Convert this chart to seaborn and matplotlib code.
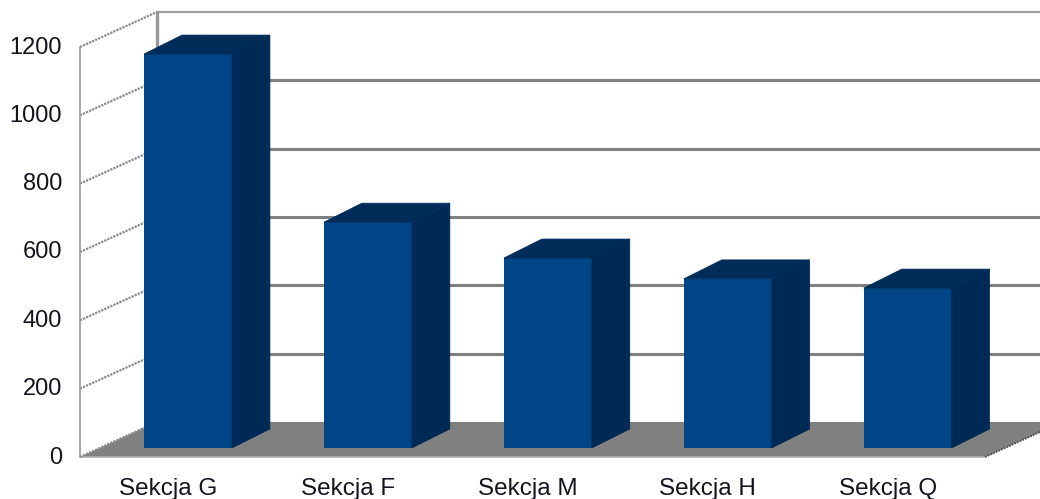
import matplotlib
matplotlib.use("Agg")
import matplotlib.pyplot as plt
from matplotlib.patches import Polygon
from matplotlib.transforms import ScaledTranslation
import pandas as pd
import seaborn as sns

categories = ["Sekcja G", "Sekcja F", "Sekcja M", "Sekcja H", "Sekcja Q"]
values = [1153, 661, 556, 495, 468]
y_ticks = [0, 200, 400, 600, 800, 1000, 1200]

W, H = 1040, 499
sns.set_theme(style="white")
plt.rcParams["font.family"] = ["Liberation Sans", "DejaVu Sans"]

fig = plt.figure(figsize=(W / 100, H / 100), dpi=100, facecolor="white")
# front plane of the pseudo-3D box, pixels: x 80..985, y 47..457
ax = fig.add_axes([80 / W, 1 - 457 / H, 905 / W, 410 / H])
ax.patch.set_alpha(0)

df = pd.DataFrame({"section": categories, "value": values})
sns.barplot(data=df, x="section", y="value", color="#004586", saturation=1,
            width=88 / 180, linewidth=0, edgecolor="none", ax=ax, zorder=5)
bars = list(ax.patches)
ax.set_xlim(-0.5, 4.53)
ax.set_ylim(0, 1200)
ax.set_xlabel("")
ax.set_ylabel("")
sns.despine(ax=ax, left=True, bottom=True)

ux = 5.03 / 905   # data per pixel
uy = 1200 / 410
wall_dx, wall_dy = 77 * ux, 35 * uy
xl, xr = ax.get_xlim()

# floor
ax.add_patch(Polygon([(xl, 0), (xr, 0), (xr + wall_dx, wall_dy), (xl + wall_dx, wall_dy)],
                     closed=True, fc="#808080", ec="none", clip_on=False, zorder=1))

# back wall grid lines
for t in y_ticks[1:]:
    is_top = t == y_ticks[-1]
    ax.plot([xl + wall_dx, xr + wall_dx], [t + wall_dy] * 2, color="#a0a0a0" if is_top else "#808080",
            lw=1.6 if is_top else 2.2, clip_on=False, zorder=2, solid_capstyle="butt")

# side wall: diagonals and verticals
for t in y_ticks:
    ax.plot([xl, xl + wall_dx], [t, t + wall_dy], color="#8a8a8a", lw=1.6,
            ls=(0, (1.0, 0.5)), clip_on=False, zorder=3)
ax.plot([xl, xl], [0, 1200], color="#999999", lw=1.2, clip_on=False, zorder=3)
ax.plot([xl + wall_dx] * 2, [wall_dy, 1200 + wall_dy], color="#999999", lw=2.4, clip_on=False, zorder=2)
ax.plot([xl, xr], [0, 0], color="#b0b0b0", lw=1.2, clip_on=False, zorder=2)
ax.plot([xr, xr + wall_dx], [0, wall_dy], color="#555555", lw=1.4,
        ls=(0, (1.0, 0.5)), clip_on=False, zorder=2)

# extrude every bar drawn by seaborn
bar_dx, bar_dy = 38 * ux, 19 * uy
shift_x, shift_y = 18 * ux, 9 * uy
for bar in bars:
    x0 = bar.get_x() + shift_x
    h = bar.get_height()
    bar.set_x(x0)
    bar.set_y(shift_y)
    bar.set_clip_on(False)
    x1 = x0 + bar.get_width()
    y0, y1 = shift_y, shift_y + h
    ax.add_patch(Polygon([(x1, y0), (x1 + bar_dx, y0 + bar_dy), (x1 + bar_dx, y1 + bar_dy), (x1, y1)],
                         closed=True, fc="#002a56", ec="#002a56", lw=0.5, clip_on=False, zorder=5))
    ax.add_patch(Polygon([(x0, y1), (x1, y1), (x1 + bar_dx, y1 + bar_dy), (x0 + bar_dx, y1 + bar_dy)],
                         closed=True, fc="#002c5a", ec="#002c5a", lw=0.5, clip_on=False, zorder=5))

ax.set_yticks(y_ticks)
ax.tick_params(axis="y", length=0, pad=13, labelsize=17, labelcolor="#14141f")
ax.tick_params(axis="x", length=0, pad=15, labelsize=17.5, labelcolor="#14141f")
shift_x_lab = ScaledTranslation(-2 / 100, 0, fig.dpi_scale_trans)
for lab in ax.get_xticklabels():
    lab.set_transform(lab.get_transform() + shift_x_lab)
shift_y_lab = ScaledTranslation(0, 2 / 100, fig.dpi_scale_trans)
for lab in ax.get_yticklabels():
    lab.set_transform(lab.get_transform() + shift_y_lab)

fig.savefig("out.png", dpi=100, facecolor="white")
